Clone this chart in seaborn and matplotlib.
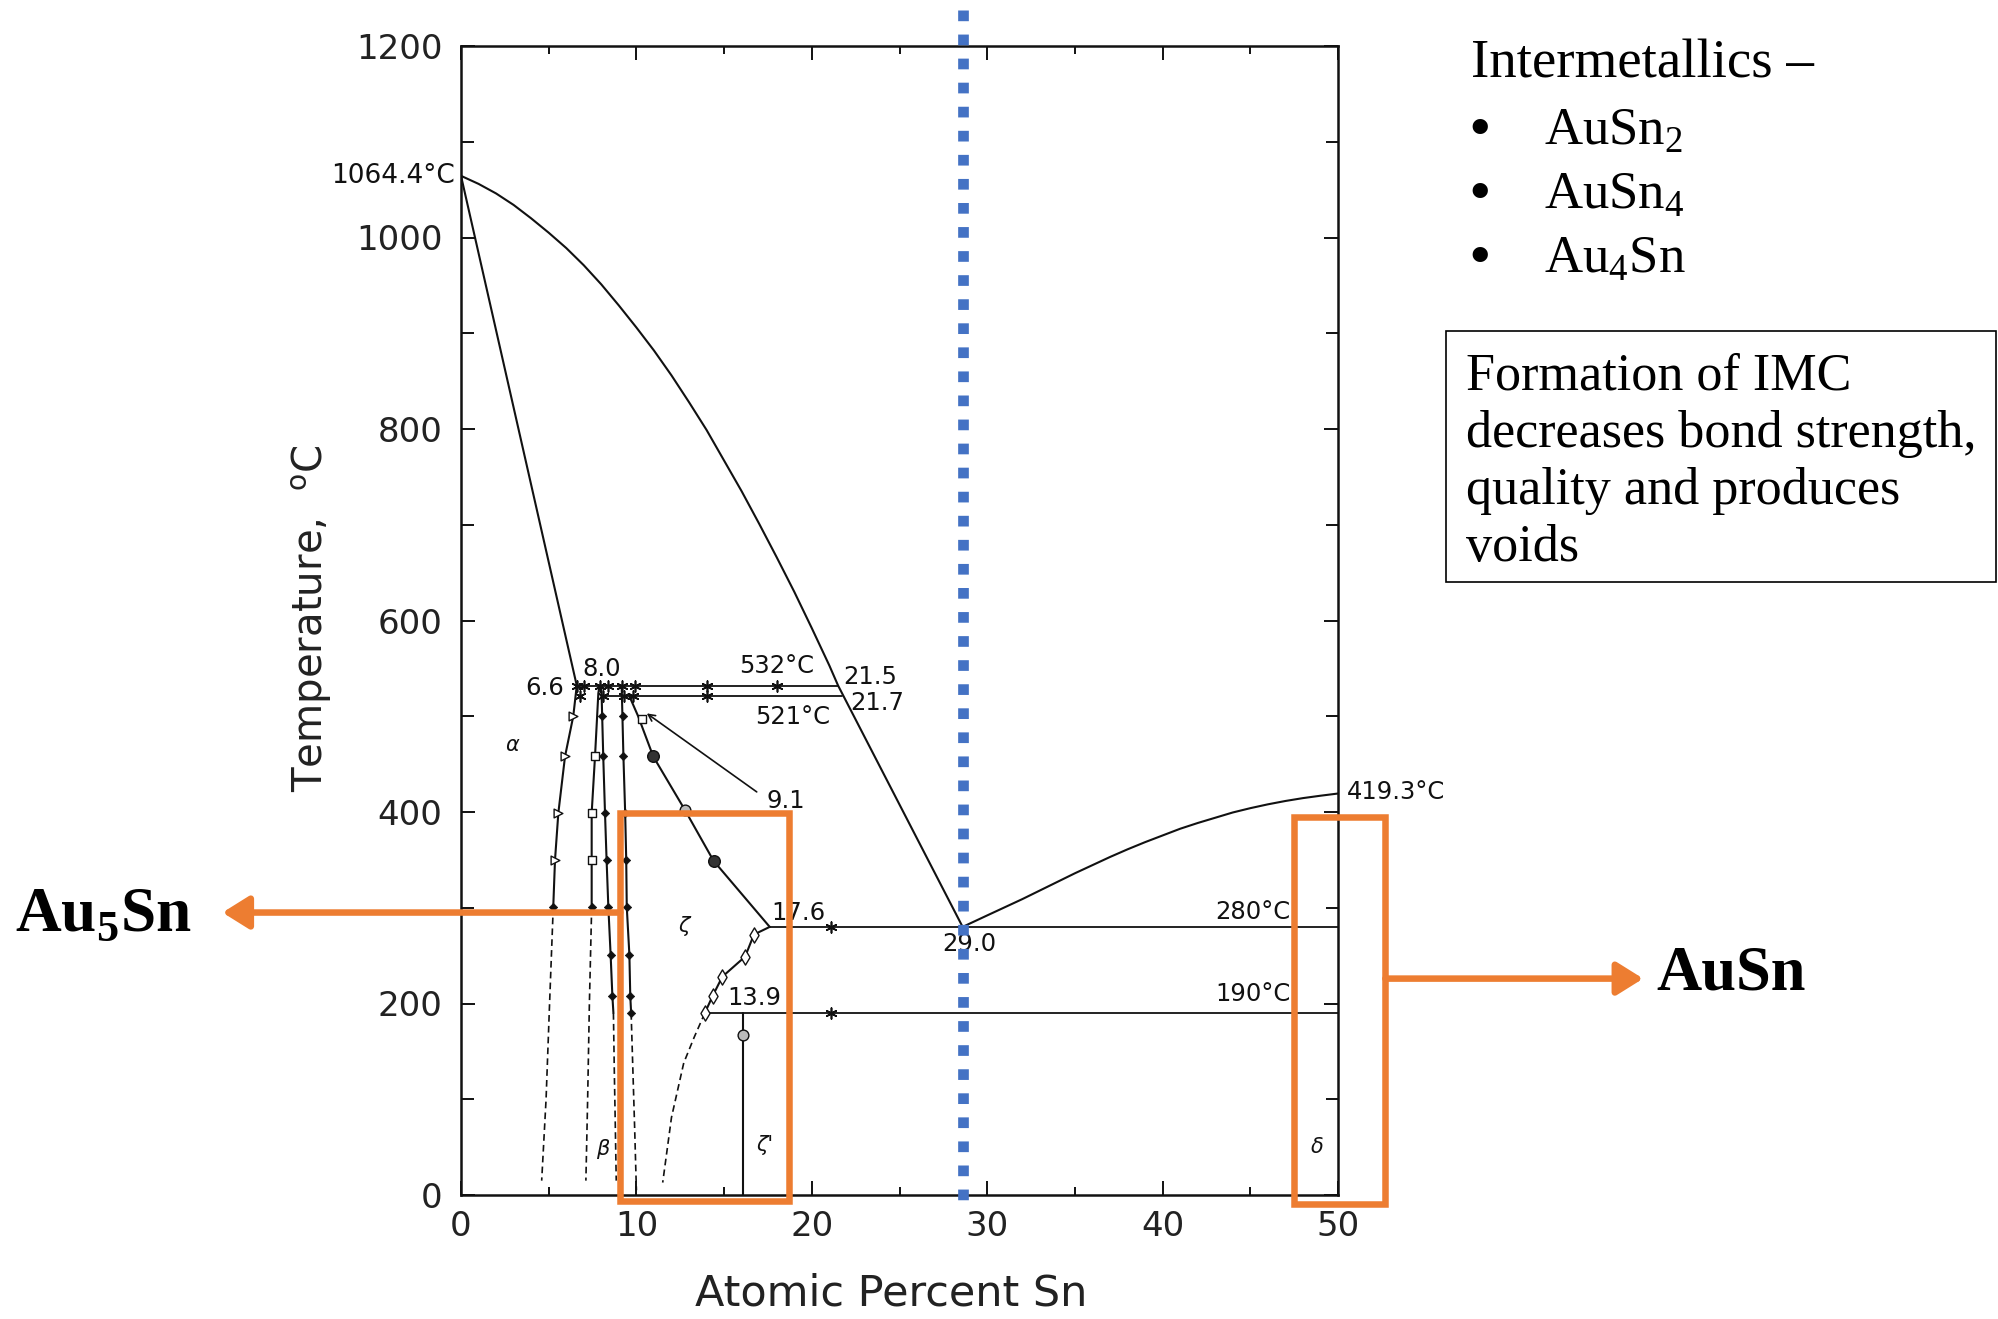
import numpy as np
import pandas as pd
import matplotlib
matplotlib.use("Agg")
import matplotlib.pyplot as plt
import seaborn as sns
from matplotlib.patches import Rectangle

# ---------------- data (atomic % Sn, temperature in C) ----------------
eutectic_x = 28.6
liq_x = [0, 1, 2, 3, 4, 5, 6, 7, 8, 9, 10, 11, 12, 13, 14, 15, 16, 17, 18, 19, 20, 21, 21.5, eutectic_x]
liq_T = [1064.4, 1056, 1046, 1034, 1020, 1005, 989, 971, 951, 929, 906, 882, 856, 828, 799,
         767, 735, 701, 666, 630, 592, 553, 532, 280]
liq2_x = [eutectic_x, 30, 31, 32, 33, 34, 35, 36, 37, 38, 39, 40, 41, 42, 43, 44, 45, 46, 47, 48, 49, 50]
liq2_T = [280, 292, 300.5, 309, 318, 327, 336, 344.5, 353, 361, 368.5, 375.5, 382.5, 388.5,
          394, 399.5, 404, 408, 411.5, 414.5, 417, 419.3]
sol_x = [0, 6.6]
sol_T = [1064.4, 532]

alpha_x = [6.6, 6.4, 5.93, 5.55, 5.36, 5.26]
alpha_T = [532, 500, 458, 399, 350, 301]
alpha_dx = [5.26, 5.05, 4.85, 4.6]
alpha_dT = [301, 200, 100, 15]

b1_x = [7.9, 7.83, 7.64, 7.45, 7.45, 7.45]
b1_T = [532, 524, 458, 399, 350, 301]
b1_dx = [7.45, 7.32, 7.22, 7.12]
b1_dT = [301, 200, 100, 15]

b2_x = [8.0, 8.02, 8.11, 8.21, 8.3, 8.4, 8.53, 8.63, 8.69]
b2_T = [532, 520, 458, 399, 350, 301, 251, 208, 190]
b2_dx = [8.69, 8.74, 8.8, 8.85]
b2_dT = [190, 130, 70, 15]

d_x = [9.16, 9.26, 9.36, 9.42, 9.45, 9.6, 9.65, 9.7]
d_T = [532, 458, 399, 350, 301, 251, 208, 190]
d_dx = [9.7, 9.8, 9.9, 10.0]
d_dT = [190, 130, 70, 5]

e_x = [9.6, 10.1, 10.96, 12.77, 14.4, 17.6]
e_T = [521, 500, 458, 402, 349, 280]

f_x = [17.6, 16.7, 16.2, 14.9, 14.35, 13.9]
f_T = [280, 272, 249, 228, 208, 190]
f_dx = [13.9, 13.3, 12.7, 12.0, 11.5]
f_dT = [190, 165, 138, 81, 13]

zp_x = [16.1, 16.1]
zp_T = [190, 0]

iso_T = [532, 521, 280, 190]
iso_x0 = [6.6, 8.0, 17.6, 13.9]
iso_x1 = [21.5, 21.7, 50.0, 50.0]

tri_x = [6.4, 5.93, 5.55, 5.36]
tri_T = [500, 458, 399, 350]
sq_x = [7.64, 7.45, 7.45, 10.3]
sq_T = [458, 399, 350, 497]
fill_x = [5.26, 7.45, 8.05, 8.11, 8.21, 8.3, 8.4, 8.53, 8.63, 9.22, 9.26, 9.36, 9.42, 9.45, 9.6, 9.65, 9.7]
fill_T = [301, 301, 500, 458, 399, 350, 301, 251, 208, 500, 458, 399, 350, 301, 251, 208, 190]
circ_x = [10.96, 14.4]
circ_T = [458, 349]
ocirc_x = [12.77, 16.1]
ocirc_T = [402, 167]
dia_x = [16.7, 16.2, 14.9, 14.35, 13.9]
dia_T = [272, 249, 228, 208, 190]
star_x = [6.6, 7.0, 7.9, 8.4, 9.2, 9.9, 14.0, 18.0, 6.8, 8.1, 9.3, 9.8, 14.0, 21.1, 21.1]
star_T = [532, 532, 532, 532, 532, 532, 532, 532, 521, 521, 521, 521, 521, 280, 190]

box1 = (9.08, 18.68, -6.7, 399)
box2 = (47.5, 52.7, -9.3, 395)

# ---------------- style ----------------
sns.set_theme(style="white")
plt.rcParams['font.family'] = ['DejaVu Sans']
plt.rcParams['mathtext.fontset'] = 'custom'
plt.rcParams['mathtext.rm'] = 'Liberation Serif'
plt.rcParams['mathtext.bf'] = 'Liberation Serif:bold'
plt.rcParams['mathtext.sf'] = 'DejaVu Sans'

W, H = 1998, 1319
fig = plt.figure(figsize=(W / 100, H / 100), dpi=100)
fig.patch.set_facecolor('white')
ax = fig.add_axes([461 / W, 1 - 1195 / H, 877 / W, 1149 / H])
ax.set_facecolor('white')

LW = 1.5
K = '#111111'


def curve(xs, ts, ls='-', lw=LW):
    sns.lineplot(x=xs, y=ts, sort=False, estimator=None, ax=ax,
                 color=K, linewidth=lw, linestyle=ls)


curve(liq_x, liq_T)
curve(liq2_x, liq2_T)
curve(sol_x, sol_T)
for xs, ts in [(alpha_x, alpha_T), (b1_x, b1_T), (b2_x, b2_T), (d_x, d_T),
               (e_x, e_T), (f_x, f_T), (zp_x, zp_T)]:
    curve(xs, ts)
for xs, ts in [(alpha_dx, alpha_dT), (b1_dx, b1_dT), (b2_dx, b2_dT),
               (d_dx, d_dT), (f_dx, f_dT)]:
    curve(xs, ts, ls=(0, (4, 2.5)), lw=1.2)
for t, a, b in zip(iso_T, iso_x0, iso_x1):
    curve([a, b], [t, t], lw=1.3)

# markers
sns.scatterplot(x=tri_x, y=tri_T, marker='>', s=40, color='white', edgecolor=K, linewidth=1, ax=ax, zorder=4)
sns.scatterplot(x=sq_x, y=sq_T, marker='s', s=35, color='white', edgecolor=K, linewidth=1, ax=ax, zorder=4)
sns.scatterplot(x=fill_x, y=fill_T, marker='D', s=18, color=K, edgecolor=K, linewidth=0.5, ax=ax, zorder=4)
sns.scatterplot(x=circ_x, y=circ_T, marker='o', s=70, color='#333333', edgecolor=K, linewidth=1, ax=ax, zorder=4)
sns.scatterplot(x=ocirc_x, y=ocirc_T, marker='o', s=60, color='#bbbbbb', edgecolor=K, linewidth=1, ax=ax, zorder=4)
sns.scatterplot(x=dia_x, y=dia_T, marker='d', s=60, color='white', edgecolor=K, linewidth=1, ax=ax, zorder=4)
sns.scatterplot(x=star_x, y=star_T, marker=(6, 2, 0), s=60, color=K, edgecolor=K, linewidth=1.2, ax=ax, zorder=4)

# 9.1 pointer
ax.annotate('', xy=(10.59, 503), xytext=(16.86, 421),
            arrowprops=dict(arrowstyle='->', color=K, lw=1.2, shrinkA=0, shrinkB=0))

# blue dotted marker line
sns.lineplot(x=[eutectic_x, eutectic_x], y=[1237.6, -9.4], sort=False, estimator=None, ax=ax,
             color='#4472C4', linewidth=7.7, linestyle=(0, (1, 1.25)), clip_on=False, zorder=6)

# orange boxes and arrows
OR = '#ED7D31'
for (x0, x1, t0, t1) in [box1, box2]:
    ax.add_patch(Rectangle((x0, t0), x1 - x0, t1 - t0, fill=False, ec=OR, lw=4.7,
                           clip_on=False, zorder=7))
ax.annotate('', xy=(-13.6, 295), xytext=(box1[0], 295), annotation_clip=False,
            arrowprops=dict(arrowstyle='-|>,head_length=0.8,head_width=0.5', color=OR,
                            lw=4.7, shrinkA=0, shrinkB=0, mutation_scale=20), zorder=7)
ax.annotate('', xy=(67.4, 226), xytext=(box2[1], 226), annotation_clip=False,
            arrowprops=dict(arrowstyle='-|>,head_length=0.8,head_width=0.5', color=OR,
                            lw=4.7, shrinkA=0, shrinkB=0, mutation_scale=20), zorder=7)

# axes styling
ax.set_xlim(0, 50)
ax.set_ylim(0, 1200)
ax.set_xticks([0, 10, 20, 30, 40, 50])
ax.set_xticks([5, 15, 25, 35, 45], minor=True)
ax.set_yticks(list(range(0, 1201, 200)))
ax.set_yticks(list(range(100, 1200, 200)), minor=True)
ax.set_xlabel('')
ax.set_ylabel('')
for s in ax.spines.values():
    s.set_color(K)
    s.set_linewidth(1.8)
ax.tick_params(which='both', direction='in', top=True, right=True, bottom=True, left=True,
               color=K, width=1.4)
ax.tick_params(axis='x', which='major', length=10, pad=11, labelsize=24.5, labelcolor='#222222')
ax.tick_params(axis='x', which='minor', length=6)
ax.tick_params(axis='y', which='major', length=10, pad=13.5, labelsize=24.5, labelcolor='#222222')
ax.tick_params(axis='y', which='minor', length=9)

# in-plot annotations
small = dict(fontsize=17.5, color=K)
ax.text(-0.35, 1064.4, '1064.4°C', ha='right', va='center', clip_on=False, fontsize=19, color=K)
ax.text(5.9, 530, '6.6', ha='right', va='center', **small)
ax.text(8.0, 549, '8.0', ha='center', va='center', **small)
ax.text(18.0, 553, '532°C', ha='center', va='center', **small)
ax.text(21.8, 541, '21.5', ha='left', va='center', **small)
ax.text(22.2, 514, '21.7', ha='left', va='center', **small)
ax.text(18.9, 499, '521°C', ha='center', va='center', **small)
ax.text(17.4, 412, '9.1', ha='left', va='center', **small)
ax.text(17.7, 294, '17.6', ha='left', va='center', **small)
ax.text(15.2, 206, '13.9', ha='left', va='center', **small)
ax.text(29.0, 262, '29.0', ha='center', va='center', **small)
ax.text(47.3, 296, '280°C', ha='right', va='center', **small)
ax.text(47.3, 210, '190°C', ha='right', va='center', **small)
ax.text(50.5, 421, '419.3°C', ha='left', va='center', clip_on=False, **small)
greek = dict(fontsize=15, color=K, fontstyle='italic', ha='center', va='center')
ax.text(2.9, 470, 'α', **greek)
ax.text(12.7, 281, 'ζ', **greek)
ax.text(17.3, 52, "ζ'", **greek)
ax.text(8.07, 48, 'β', **greek)
ax.text(48.8, 50, 'δ', **greek)


# figure-level texts
def ftxt(px, py, s, **kw):
    fig.text(px / W, 1 - py / H, s, **kw)


ftxt(891, 1293, 'Atomic Percent Sn', ha='center', va='center', fontsize=31, color='#222222')
ftxt(312, 618, r'Temperature,  $^{\mathsf{o}}$C', ha='center', va='center', rotation=90,
     fontsize=29, color='#222222')

serif = ['Liberation Serif', 'DejaVu Serif']
ftxt(15, 931, r'Au$_{\mathbf{5}}$Sn', ha='left', va='baseline', fontsize=45.5,
     fontweight='bold', family=serif, color='black')
ftxt(1656, 989, 'AuSn', ha='left', va='baseline', fontsize=45,
     fontweight='bold', family=serif, color='black')

ftxt(1471, 78, 'Intermetallics –', ha='left', va='baseline', fontsize=39.5, family=serif, color='black')
for yb, s in zip([144, 208, 272], [r'AuSn$_{\mathrm{2}}$', r'AuSn$_{\mathrm{4}}$', r'Au$_{\mathrm{4}}$Sn']):
    ftxt(1468, yb + 4, '•', ha='left', va='baseline', fontsize=46, family=serif, color='black')
    ftxt(1544, yb, s, ha='left', va='baseline', fontsize=38, family=serif, color='black')

fig.add_artist(Rectangle((1446 / W, 1 - 582 / H), 550 / W, 251 / H, transform=fig.transFigure,
                         fill=False, ec='black', lw=1.2))
for yb, s in zip([389, 447, 504, 561],
                 ['Formation of IMC', 'decreases bond strength,', 'quality and produces', 'voids']):
    ftxt(1466, yb, s, ha='left', va='baseline', fontsize=37.5, family=serif, color='black')

fig.savefig('out.png', dpi=100, facecolor='white')
